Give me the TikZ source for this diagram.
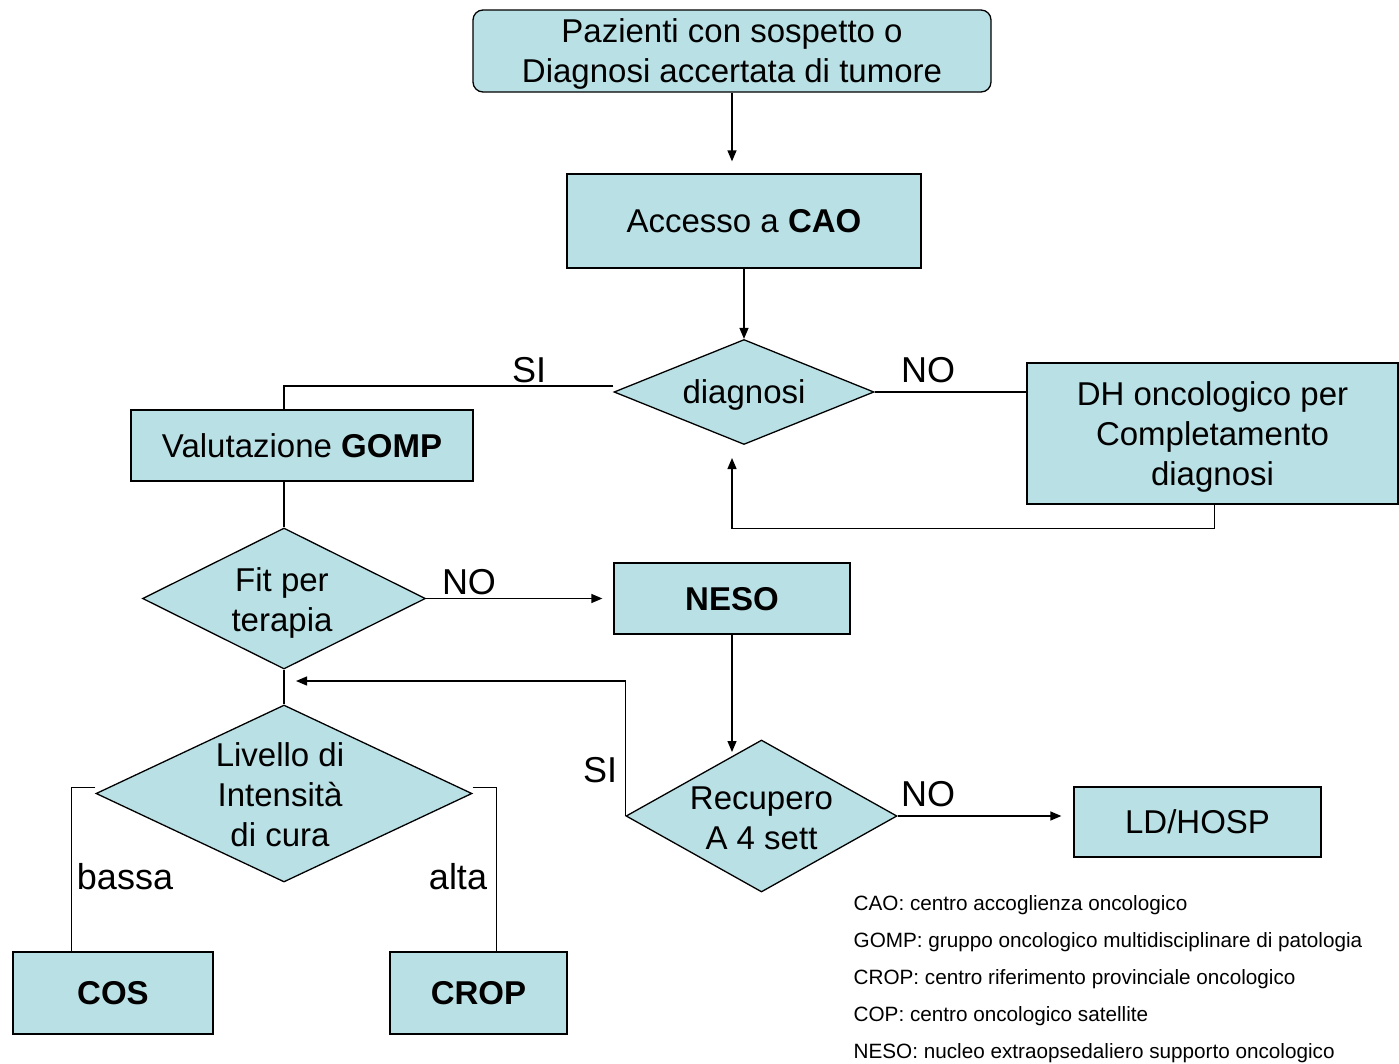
\documentclass[tikz,border=0pt]{standalone}
\usepackage{fontspec}
\setmainfont{Liberation Sans}
\usetikzlibrary{shapes.geometric,arrows.meta}
\definecolor{boxfill}{RGB}{185,224,228}
\begin{document}
\begin{tikzpicture}[x=1pt,y=-1pt,line width=1.3pt,
	box/.style={draw,fill=boxfill,inner sep=0pt,text depth=0pt,font=\fontsize{33}{40}\selectfont,align=center},
	dia/.style={draw,fill=boxfill,diamond,inner sep=0pt,aspect=1},
	dtext/.style={font=\fontsize{33}{40}\selectfont,align=center,inner sep=0pt,text depth=0pt},
	lab/.style={font=\fontsize{36}{40}\selectfont,inner sep=0pt},
	legend/.style={font=\fontsize{20.7}{24}\selectfont,inner sep=0pt,anchor=base west},
	arr/.style={-{Triangle[length=11pt,width=9pt]}}]
	\useasboundingbox (0,0) rectangle (1399,1063);
	\node[box,rounded corners=10pt,minimum width=518pt,minimum height=82pt] (paz) at (732,51) {Pazienti con sospetto o\\Diagnosi accertata di tumore};
	\node[box,minimum width=354pt,minimum height=94pt] (cao) at (744,221) {Accesso a \textbf{CAO}};
	\node[dia,minimum width=260pt,minimum height=105pt] (diag) at (744,392) {};
	\node[dtext] (diagtxt) at (diag) {diagnosi};
	\node[box,minimum width=342pt,minimum height=71pt] (gomp) at (302,445.5) {Valutazione \textbf{GOMP}};
	\node[box,minimum width=371pt,minimum height=141pt] (dh) at (1212.5,433.5) {DH oncologico per\\Completamento\\diagnosi};
	\node[dia,minimum width=283pt,minimum height=141pt] (fit) at (284,598.5) {};
	\node[dtext] (fittxt) at (282,600) {Fit per\\terapia};
	\node[box,minimum width=236pt,minimum height=71pt] (neso) at (732,598.5) {\textbf{NESO}};
	\node[dia,minimum width=376pt,minimum height=177pt] (liv) at (284,793.5) {};
	\node[dtext] (livtxt) at (280,795) {Livello di\\Intensità\\di cura};
	\node[dia,minimum width=271pt,minimum height=152pt] (rec) at (761.5,816) {};
	\node[dtext] (rectxt) at (761.5,818) {Recupero\\A 4 sett};
	\node[box,minimum width=247pt,minimum height=70pt] (ld) at (1197.5,822) {LD/HOSP};
	\node[box,minimum width=200pt,minimum height=82pt] (cos) at (113,993) {\textbf{COS}};
	\node[box,minimum width=177pt,minimum height=82pt] (crop) at (478.5,993) {\textbf{CROP}};
	\coordinate (back) at (732,458);
	\coordinate (rectop) at (732,752);
	\coordinate (fitback) at (296,681);
	\draw[arr,shorten >=12pt] (paz.south) -- (paz.south |- cao.north);
	\draw[arr] (cao.south) -- (diag.north);
	\draw ([yshift=6pt]diag.west) -| (fit.north |- gomp.north);
	\draw (diag.east) -- (diag.east -| dh.west);
	\draw[arr] ([xshift=2pt]dh.south) -- ++(0,24) -| (back);
	\draw (fit.north |- gomp.south) -- (fit.north);
	\draw[arr,shorten >=11pt] (fit.east) -- (neso.west);
	\draw[arr] (neso.south) -- (rectop);
	\draw[arr] (rec.west) |- (fitback);
	\draw (fit.south) -- (liv.north);
	\draw (liv.west) ++(0,-6) -- ++(-24,0) -- ([xshift=59pt]cos.north west);
	\draw (liv.east) ++(0,-6) -- ++(24,0) -- ([xshift=-71pt]crop.north east);
	\draw[arr,shorten >=12pt] (rec.east) -- (rec.east -| ld.west);
	\node[lab] (si1) at (529,370) {SI};
	\node[lab] (no1) at (928,370) {NO};
	\node[lab] (no2) at (469,582) {NO};
	\node[lab] (si2) at (600,770) {SI};
	\node[lab] (no3) at (928,794) {NO};
	\node[lab] (bassa) at (125,877) {bassa};
	\node[lab] (alta) at (458,877) {alta};
	\foreach \t [count=\i] in {CAO: centro accoglienza oncologico,GOMP: gruppo oncologico multidisciplinare di patologia,CROP: centro riferimento provinciale oncologico,COP: centro oncologico satellite,NESO: nucleo extraopsedaliero supporto oncologico}
		\node[legend] (leg\i) at (853,{910+(\i-1)*37}) {\t};
\end{tikzpicture}
\end{document}
